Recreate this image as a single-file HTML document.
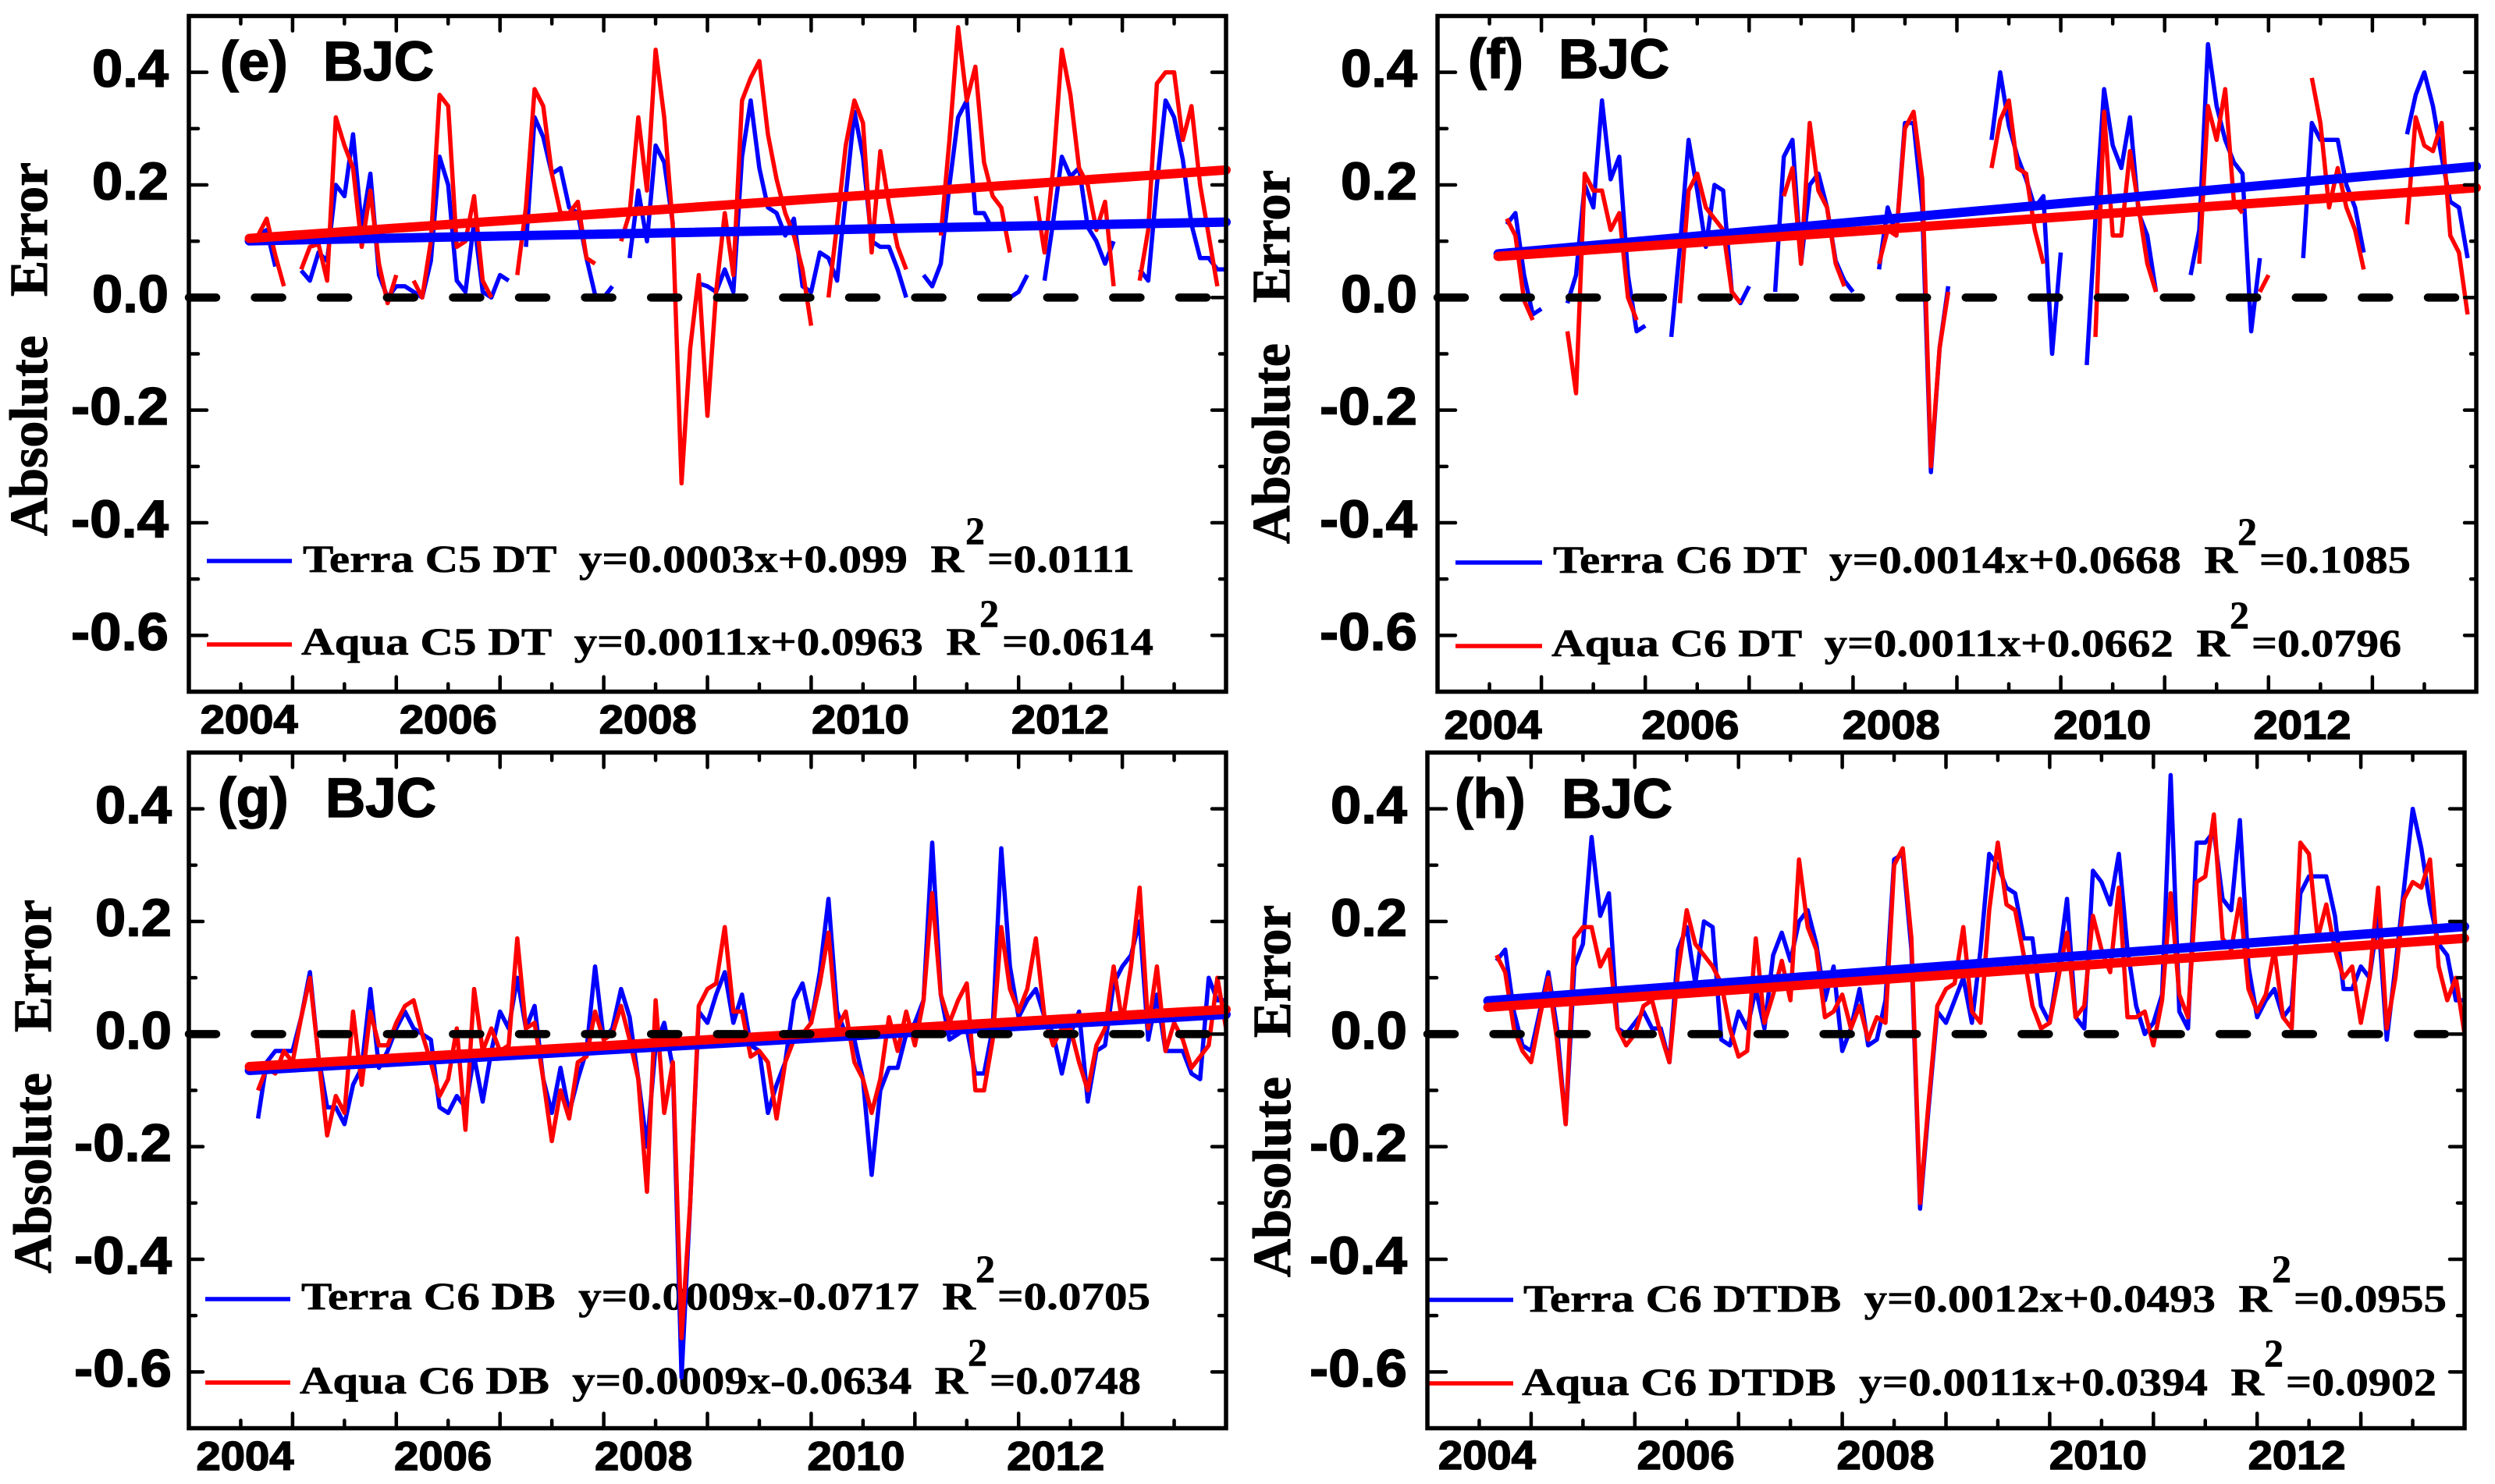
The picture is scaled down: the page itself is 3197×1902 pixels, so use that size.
<!DOCTYPE html>
<html lang="en">
<head>
<meta charset="utf-8">
<title>Absolute Error time series, BJC</title>
<style>
html,body{margin:0;padding:0;background:#fff;}
svg{display:block;}
.lg{font-family:"Liberation Serif",serif;font-weight:bold;font-size:50px;fill:#000;stroke:#000;stroke-width:.6px;white-space:pre;}
.yt{font-family:"Liberation Serif",serif;font-weight:bold;font-size:69px;fill:#000;stroke:#000;stroke-width:1px;}
.pl{font-family:"Liberation Sans",sans-serif;font-weight:bold;font-size:71px;fill:#000;stroke:#000;stroke-width:1.5px;}
.tk{font-family:"Liberation Sans",sans-serif;font-weight:bold;fill:#000;stroke:#000;stroke-width:1.5px;}
</style>
</head>
<body>
<svg id="figure" xmlns="http://www.w3.org/2000/svg" width="3197" height="1902" viewBox="0 0 3197 1902">
<rect x="0" y="0" width="3197" height="1902" fill="#fff"/>

<g id="panel-e">
  <text class="pl" x="282" y="103">(e)</text>
  <text class="pl" x="414" y="103">BJC</text>
  <text class="yt" transform="translate(60,687) rotate(-90)" textLength="257" lengthAdjust="spacingAndGlyphs">Absolute</text>
  <text class="yt" transform="translate(60,380) rotate(-90)" textLength="172" lengthAdjust="spacingAndGlyphs">Error</text>
  <line x1="265" x2="374" y1="719" y2="719" stroke="#00f" stroke-width="5.5"/>
  <text class="lg" x="388" y="733" textLength="847" lengthAdjust="spacingAndGlyphs">Terra C5 DT  y=0.0003x+0.099  R</text>
  <text class="lg" x="1237" y="697">2</text>
  <text class="lg" x="1265" y="733" textLength="189" lengthAdjust="spacingAndGlyphs">=0.0111</text>
  <line x1="265" x2="374" y1="826" y2="826" stroke="#f00" stroke-width="5.5"/>
  <text class="lg" x="386" y="839" textLength="869" lengthAdjust="spacingAndGlyphs">Aqua C5 DT  y=0.0011x+0.0963  R</text>
  <text class="lg" x="1255" y="803">2</text>
  <text class="lg" x="1284" y="839" textLength="194" lengthAdjust="spacingAndGlyphs">=0.0614</text>
</g>

<g id="panel-f">
  <text class="pl" x="1881" y="100">(f)</text>
  <text class="pl" x="1997" y="100">BJC</text>
  <text class="yt" transform="translate(1652,697) rotate(-90)" textLength="257" lengthAdjust="spacingAndGlyphs">Absolute</text>
  <text class="yt" transform="translate(1652,388) rotate(-90)" textLength="170" lengthAdjust="spacingAndGlyphs">Error</text>
  <line x1="1865" x2="1976" y1="721" y2="721" stroke="#00f" stroke-width="5.5"/>
  <text class="lg" x="1990" y="734" textLength="877" lengthAdjust="spacingAndGlyphs">Terra C6 DT  y=0.0014x+0.0668  R</text>
  <text class="lg" x="2867" y="698">2</text>
  <text class="lg" x="2895" y="734" textLength="194" lengthAdjust="spacingAndGlyphs">=0.1085</text>
  <line x1="1865" x2="1976" y1="828" y2="828" stroke="#f00" stroke-width="5.5"/>
  <text class="lg" x="1988" y="841" textLength="869" lengthAdjust="spacingAndGlyphs">Aqua C6 DT  y=0.0011x+0.0662  R</text>
  <text class="lg" x="2857" y="805">2</text>
  <text class="lg" x="2885" y="841" textLength="192" lengthAdjust="spacingAndGlyphs">=0.0796</text>
</g>

<g id="panel-g">
  <text class="pl" x="279" y="1047">(g)</text>
  <text class="pl" x="417" y="1047">BJC</text>
  <text class="yt" transform="translate(65,1632) rotate(-90)" textLength="257" lengthAdjust="spacingAndGlyphs">Absolute</text>
  <text class="yt" transform="translate(65,1323) rotate(-90)" textLength="170" lengthAdjust="spacingAndGlyphs">Error</text>
  <line x1="263" x2="372" y1="1665" y2="1665" stroke="#00f" stroke-width="5.5"/>
  <text class="lg" x="386" y="1678" textLength="864" lengthAdjust="spacingAndGlyphs">Terra C6 DB  y=0.0009x-0.0717  R</text>
  <text class="lg" x="1250" y="1643">2</text>
  <text class="lg" x="1278" y="1678" textLength="196" lengthAdjust="spacingAndGlyphs">=0.0705</text>
  <line x1="263" x2="372" y1="1772" y2="1772" stroke="#f00" stroke-width="5.5"/>
  <text class="lg" x="384" y="1786" textLength="856" lengthAdjust="spacingAndGlyphs">Aqua C6 DB  y=0.0009x-0.0634  R</text>
  <text class="lg" x="1240" y="1750">2</text>
  <text class="lg" x="1268" y="1786" textLength="194" lengthAdjust="spacingAndGlyphs">=0.0748</text>
</g>

<g id="panel-h">
  <text class="pl" x="1864" y="1048">(h)</text>
  <text class="pl" x="2001" y="1048">BJC</text>
  <text class="yt" transform="translate(1653,1637) rotate(-90)" textLength="257" lengthAdjust="spacingAndGlyphs">Absolute</text>
  <text class="yt" transform="translate(1653,1330) rotate(-90)" textLength="170" lengthAdjust="spacingAndGlyphs">Error</text>
  <line x1="1830" x2="1939" y1="1666" y2="1666" stroke="#00f" stroke-width="5.5"/>
  <text class="lg" x="1952" y="1681" textLength="959" lengthAdjust="spacingAndGlyphs">Terra C6 DTDB  y=0.0012x+0.0493  R</text>
  <text class="lg" x="2911" y="1643">2</text>
  <text class="lg" x="2939" y="1681" textLength="196" lengthAdjust="spacingAndGlyphs">=0.0955</text>
  <line x1="1830" x2="1939" y1="1773" y2="1773" stroke="#f00" stroke-width="5.5"/>
  <text class="lg" x="1950" y="1788" textLength="951" lengthAdjust="spacingAndGlyphs">Aqua C6 DTDB  y=0.0011x+0.0394  R</text>
  <text class="lg" x="2901" y="1751">2</text>
  <text class="lg" x="2929" y="1788" textLength="193" lengthAdjust="spacingAndGlyphs">=0.0902</text>
</g>
</svg>

<script>
// Monthly series: index 0 is month 1; null marks a missing month.
const terraE = [
 null,.11,.12,.055,null,null,.048,.03,.08,.065,
 .2,.18,.29,.125,.22,.04,0,.02,.02,.01,
 0,.065,.25,.2,.03,.01,.135,.01,0,.04,
 .03,null,.09,.32,.285,.22,.23,.16,.15,.07,
 .005,0,.02,null,.07,.19,.1,.27,.24,.13,
 null,null,.025,.02,.01,.05,.01,.25,.35,.23,
 .16,.15,.11,.14,.02,.01,.08,.07,.03,.18,
 .33,.25,.1,.09,.09,.05,0,null,.04,.02,
 .06,.2,.32,.35,.15,.15,.12,null,0,.01,
 .04,null,.03,.135,.25,.215,.23,.125,.1,.06,
 .1,null,null,.05,.03,.2,.35,.32,.245,.13,
 .07,.07,.05,.05];
const aquaE = [
 null,.11,.14,.075,.02,null,.05,.09,.095,.03,
 .32,.27,.23,.09,.19,.06,-.01,.04,null,.03,
 0,.1,.36,.34,.09,.1,.18,.03,0,null,
 null,.04,.16,.37,.34,.22,.15,.15,.17,.07,
 .06,null,null,.1,.15,.32,.19,.44,.32,.125,
 -.33,-.09,.04,-.21,.01,.15,.04,.35,.39,.42,
 .29,.21,.15,.11,.05,-.05,null,0,.13,.27,
 .35,.31,.08,.26,.165,.09,.05,null,null,null,
 .11,.28,.48,.35,.41,.24,.18,.16,.08,null,
 null,.18,.08,.23,.44,.36,.23,.2,.12,.17,
 .02,null,null,.03,.12,.38,.4,.4,.28,.34,
 .2,.11,.02,null];
const terraF = [
 null,.13,.15,.04,-.03,-.02,null,null,-.01,.04,
 .2,.16,.35,.21,.25,.04,-.06,-.05,null,null,
 -.07,.09,.28,.19,.09,.2,.19,.01,-.01,.02,
 null,null,.01,.25,.28,.06,.2,.22,.16,.065,
 .03,.01,null,null,.05,.16,.11,.31,.31,.16,
 -.31,-.09,.02,null,null,null,null,.28,.4,.305,
 .25,.21,.16,.18,-.1,.08,null,null,-.12,.14,
 .37,.27,.23,.32,.15,.11,.01,null,null,null,
 .04,.12,.45,.34,.28,.24,.22,-.06,.07,null,
 null,null,null,.07,.31,.28,.28,.28,.2,.16,
 .08,null,null,null,null,.29,.36,.4,.34,.25,
 .17,.16,.07,null];
const aquaF = [
 null,.14,.11,-.005,-.04,null,null,null,-.06,-.17,
 .22,.19,.19,.12,.15,0,-.04,null,null,null,
 null,-.01,.19,.22,.16,.14,.12,.01,-.01,null,
 null,null,null,.18,.23,.06,.31,.19,.16,.06,
 .02,null,null,null,.06,.12,.11,.3,.33,.21,
 -.3,-.09,.01,null,null,null,null,.23,.315,.35,
 .23,.22,.12,.06,null,null,null,null,null,-.07,
 .33,.11,.11,.26,.16,.06,.01,null,null,null,
 null,.06,.34,.28,.37,.17,.15,null,.01,.04,
 null,null,null,null,.39,.31,.16,.23,.16,.12,
 .05,null,null,null,null,.13,.32,.27,.26,.31,
 .11,.08,-.03,null];
const terraG = [
 null,-.15,-.05,-.03,-.03,-.03,.03,.11,-.04,-.13,
 -.13,-.16,-.09,-.06,.08,-.06,-.03,.01,.04,.01,
 0,-.01,-.13,-.14,-.11,-.13,-.04,-.12,-.03,.04,
 .01,.1,.01,.05,-.08,-.14,-.06,-.14,-.08,-.03,
 .12,-.01,.01,.08,.03,-.08,-.2,-.02,.02,-.06,
 -.61,-.3,.04,.02,.07,.11,.02,.07,-.02,-.03,
 -.14,-.09,-.05,.06,.09,.02,.11,.24,.04,0,
 -.01,-.08,-.25,-.1,-.06,-.06,0,.02,.06,.34,
 .07,-.01,0,.01,-.07,-.07,.01,.33,.12,.03,
 .06,.08,.03,0,-.07,0,.04,-.12,-.03,-.02,
 .09,.12,.14,.2,-.01,.07,-.03,-.03,-.03,-.07,
 -.08,.1,.06,.06];
const aquaG = [
 null,-.1,-.06,-.07,-.03,-.05,.03,.1,-.04,-.18,
 -.11,-.14,.04,-.09,.04,-.02,-.02,.02,.05,.06,
 0,-.05,-.11,-.08,.01,-.17,.08,-.03,.01,-.03,
 -.02,.17,.01,.02,-.08,-.19,-.1,-.15,-.05,-.04,
 .04,-.01,0,.05,-.01,-.08,-.28,.06,-.14,-.05,
 -.54,-.3,.05,.08,.09,.19,.04,.04,-.04,-.03,
 -.05,-.15,-.05,-.01,0,.02,.09,.18,.01,.04,
 -.05,-.08,-.14,-.08,.03,-.03,.04,-.02,.06,.25,
 .07,.02,.06,.09,-.1,-.1,-.01,.19,.08,.04,
 .08,.17,.03,-.02,.01,.01,-.05,-.1,-.02,.01,
 .12,.02,.12,.26,.01,.12,-.03,.02,-.01,-.06,
 -.04,-.02,.1,.01];
const terraH = [
 null,.13,.15,.04,-.02,-.03,.04,.11,.01,-.16,
 .12,.16,.35,.21,.25,.01,0,.02,.04,.01,
 .01,-.05,.15,.19,.09,.2,.19,-.01,-.02,.04,
 .01,.08,.01,.14,.18,.13,.2,.22,.16,.06,
 .12,-.03,.01,.08,-.02,-.01,.06,.31,.32,.15,
 -.31,-.13,.04,.02,.06,.1,.02,.15,.32,.3,
 .26,.25,.17,.17,.05,.02,.12,.24,.03,.01,
 .29,.27,.23,.32,.15,.05,0,.02,.07,.46,
 .04,.01,.34,.34,.36,.24,.22,.38,.12,.03,
 .06,.08,.03,.05,.25,.28,.28,.28,.21,.08,
 .08,.12,.1,.21,-.01,.12,.26,.4,.33,.23,
 .16,.14,.06,.06];
const aquaH = [
 null,.14,.11,.01,-.03,-.05,.03,.1,-.01,-.16,
 .17,.19,.19,.12,.15,.01,-.02,0,.05,.06,
 0,-.05,.11,.22,.16,.14,.12,.09,.01,-.04,
 -.03,.17,.02,.07,.13,.06,.31,.19,.15,.03,
 .04,.07,.01,.05,-.01,.03,.02,.3,.33,.17,
 -.3,-.12,.05,.08,.09,.19,.04,.02,.22,.34,
 .23,.22,.14,.05,.01,.02,.1,.18,.03,.05,
 .21,.15,.11,.26,.03,.03,.04,-.02,.06,.25,
 .07,.03,.27,.28,.39,.17,.15,.24,.08,.04,
 .07,.15,.03,.01,.34,.32,.17,.23,.15,.1,
 .12,.02,.1,.26,.01,.1,.24,.27,.26,.31,
 .12,.06,.1,0];

// Trend line values at the first and last month.
const trendTerraE = [.1006,.134];
const trendAquaE = [.105,.2265];
const trendTerraF = [.0775,.233];
const trendAquaF = [.073,.195];
const trendTerraG = [-.0646,.035];
const trendAquaG = [-.0577,.0438];
const trendTerraH = [.059,.191];
const trendAquaH = [.0475,.17];

// Axis ticks and labels.
const yTickValues = [.4,.2,0,-.2,-.4,-.6];
const yMinorValues = [.3,.1,-.1,-.3,-.5];
const yTickLabels = ['0.4','0.2','0.0','-0.2','-0.4','-0.6'];
const xMajorMonths = [6,18,30,42,54,66,78,90,102];
const xMinorMonths = [0,12,24,36,48,60,72,84,96,108];
const yearLabels = ['2004','2006','2008','2010','2012'];
const yearLabelMonthsE = [.96,24,47.1,71.7,94.8];
const yearLabelMonthsF = [.4,23.2,46.4,70.8,93.9];
const yearLabelMonthsG = [.5,23.4,46.6,71.2,94.3];
const yearLabelMonthsH = [.9,23.9,47,71.6,94.6];

const X_DOMAIN = [-6,114];
const Y_DOMAIN = [-.7,.5];
const panels = [
 {id:'e',L:242,R:1571,T:20.5,B:886.5,labelX:216,yearBase:940,lm:23,ln:12,rm:18,rn:8,terra:terraE,aqua:aquaE,tT:trendTerraE,tA:trendAquaE,years:yearLabelMonthsE},
 {id:'f',L:1842,R:3173,T:20.5,B:886.5,labelX:1816,yearBase:947,lm:23,ln:12,rm:15,rn:7,terra:terraF,aqua:aquaF,tT:trendTerraF,tA:trendAquaF,years:yearLabelMonthsF},
 {id:'g',L:242,R:1571,T:964.5,B:1830.5,labelX:220,yearBase:1884,lm:18,ln:9,rm:18,rn:9,terra:terraG,aqua:aquaG,tT:trendTerraG,tA:trendAquaG,years:yearLabelMonthsG},
 {id:'h',L:1829,R:3158,T:964.5,B:1830.5,labelX:1803,yearBase:1883,lm:24,ln:12,rm:19,rn:9,terra:terraH,aqua:aquaH,tT:trendTerraH,tA:trendAquaH,years:yearLabelMonthsH}
];

const NS = 'http://www.w3.org/2000/svg';
function mk(parent,tag,attrs,txt){
  const n = document.createElementNS(NS,tag);
  for(const k in attrs){ n.setAttribute(k,attrs[k]); }
  if(txt!==undefined){ n.textContent = txt; }
  parent.appendChild(n);
  return n;
}
function seriesPath(vals,xf,yf){
  let d='',pen=false;
  vals.forEach(function(v,i){
    if(v===null){ pen=false; return; }
    d += (pen?'L':'M') + xf(i+1).toFixed(1) + ' ' + yf(v).toFixed(1);
    pen = true;
  });
  return d;
}

panels.forEach(function(p){
  const g = document.getElementById('panel-'+p.id);
  const xf = function(t){ return p.L + (t-X_DOMAIN[0])/(X_DOMAIN[1]-X_DOMAIN[0])*(p.R-p.L); };
  const yf = function(v){ return p.T + (Y_DOMAIN[1]-v)/(Y_DOMAIN[1]-Y_DOMAIN[0])*(p.B-p.T); };

  // data lines
  const terraLine = mk(g,'path',{d:seriesPath(p.terra,xf,yf),fill:'none',stroke:'#00f','stroke-width':5.5,'stroke-linejoin':'round','stroke-linecap':'butt'});
  
  
  const aquaLine = mk(g,'path',{d:seriesPath(p.aqua,xf,yf),fill:'none',stroke:'#f00','stroke-width':5.5,'stroke-linejoin':'round','stroke-linecap':'butt'});
  
  

  // trend lines
  const terraTrend = mk(g,'line',{x1:xf(1),x2:xf(114),y1:yf(p.tT[0]),y2:yf(p.tT[1]),stroke:'#00f','stroke-width':12,'stroke-linecap':'round'});
  
  
  const aquaTrend = mk(g,'line',{x1:xf(1),x2:xf(114),y1:yf(p.tA[0]),y2:yf(p.tA[1]),stroke:'#f00','stroke-width':12,'stroke-linecap':'round'});
  
  

  // zero reference
  const zero = mk(g,'line',{x1:p.L,x2:p.R-10,y1:yf(0),y2:yf(0),stroke:'#000','stroke-width':10.5,'stroke-linecap':'round','stroke-dasharray':'35 49.6'});
  
  

  // x ticks
  xMajorMonths.forEach(function(t){
    const top = mk(g,'line',{x1:xf(t),x2:xf(t),y1:p.T,y2:p.T+19,stroke:'#000','stroke-width':4.5,'stroke-linecap':'round'});
    
    
    const bot = mk(g,'line',{x1:xf(t),x2:xf(t),y1:p.B,y2:p.B-19,stroke:'#000','stroke-width':4.5,'stroke-linecap':'round'});
    
    
  });
  xMinorMonths.forEach(function(t){
    const top = mk(g,'line',{x1:xf(t),x2:xf(t),y1:p.T,y2:p.T+10,stroke:'#000','stroke-width':4.5,'stroke-linecap':'round'});
    
    
    const bot = mk(g,'line',{x1:xf(t),x2:xf(t),y1:p.B,y2:p.B-10,stroke:'#000','stroke-width':4.5,'stroke-linecap':'round'});
    
    
  });

  // y ticks and labels
  yTickValues.forEach(function(v,i){
    const left = mk(g,'line',{x1:p.L,x2:p.L+p.lm,y1:yf(v),y2:yf(v),stroke:'#000','stroke-width':4.5,'stroke-linecap':'round'});
    
    
    const right = mk(g,'line',{x1:p.R,x2:p.R-p.rm,y1:yf(v),y2:yf(v),stroke:'#000','stroke-width':4.5,'stroke-linecap':'round'});
    
    
    const s = yTickLabels[i];
    const lab = mk(g,'text',{class:'tk',x:p.labelX,y:yf(v)+18.5,'text-anchor':'end','font-size':68,textLength:s.length>3?125:98,lengthAdjust:'spacingAndGlyphs'},s);
    
    
  });
  yMinorValues.forEach(function(v){
    const left = mk(g,'line',{x1:p.L,x2:p.L+p.ln,y1:yf(v),y2:yf(v),stroke:'#000','stroke-width':4.5,'stroke-linecap':'round'});
    
    
    const right = mk(g,'line',{x1:p.R,x2:p.R-p.rn,y1:yf(v),y2:yf(v),stroke:'#000','stroke-width':4.5,'stroke-linecap':'round'});
    
    
  });

  // year labels
  yearLabels.forEach(function(s,i){
    const lab = mk(g,'text',{class:'tk',x:xf(p.years[i]),y:p.yearBase,'text-anchor':'middle','font-size':52,textLength:125,lengthAdjust:'spacingAndGlyphs'},s);
    
    
  });

  // frame on top of everything
  const frame = mk(g,'rect',{x:p.L,y:p.T,width:p.R-p.L,height:p.B-p.T,fill:'none',stroke:'#000','stroke-width':5.5});
  
  
});
</script>
</body>
</html>
